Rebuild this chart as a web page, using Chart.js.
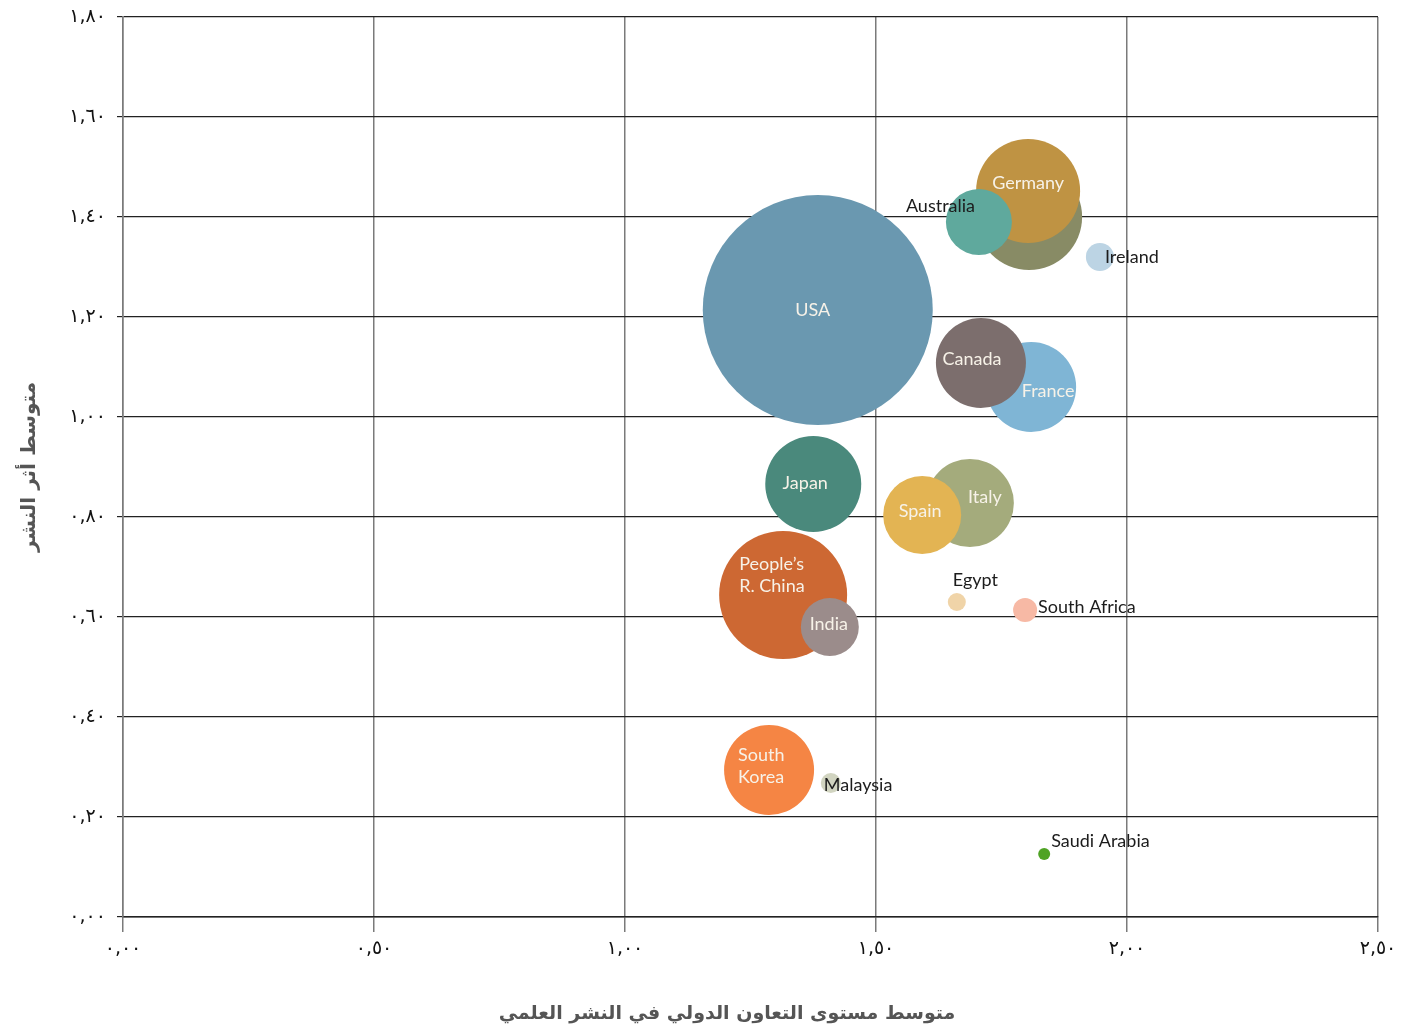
<!DOCTYPE html>
<html lang="ar">
<head>
<meta charset="utf-8">
<script src="https://cdn.jsdelivr.net/npm/chart.js@4/dist/chart.umd.min.js"></script>
<style>
  html, body { margin: 0; padding: 0; background: #fff; }
</style>
</head>
<body>
<canvas id="grafica" width="1417" height="1033"></canvas>
<script>
// datos
const paises = ['USA', 'UK', 'Germany', 'Australia', 'Ireland', 'France', 'Canada', 'Italy', 'Spain',
  'Japan', "People's R. China", 'India', 'Egypt', 'South Africa', 'South Korea', 'Malaysia', 'Saudi Arabia'];
const colaboracion = [1.384, 1.805, 1.803, 1.705, 1.946, 1.809, 1.709, 1.687, 1.592,
  1.375, 1.315, 1.408, 1.661, 1.797, 1.287, 1.410, 1.835];
const impacto = [1.214, 1.400, 1.452, 1.390, 1.320, 1.060, 1.108, 0.828, 0.804,
  0.866, 0.644, 0.580, 0.630, 0.614, 0.294, 0.268, 0.126];
const tamano = [115, 53, 52, 33, 14, 45, 45, 44, 39, 48, 64, 29, 9, 12, 45, 10, 6];
const xTicks = [0, 0.5, 1, 1.5, 2, 2.5];
const xTickLabels = ['٠,٠٠', '٠,٥٠', '١,٠٠', '١,٥٠', '٢,٠٠', '٢,٥٠'];
const yTickLabels = ['٠,٠٠', '٠,٢٠', '٠,٤٠', '٠,٦٠', '٠,٨٠', '١,٠٠', '١,٢٠', '١,٤٠', '١,٦٠', '١,٨٠'];
const tituloX = 'متوسط مستوى التعاون الدولي في النشر العلمي';
const tituloY = 'متوسط أثر النشر';

const colores = ['#6a98b0', '#888b65', '#bf9343', '#5fa99d', '#bcd4e4', '#7fb5d5', '#7c6e6d', '#a4ab7c', '#e3b453',
  '#4a897c', '#cd6833', '#9b8c8b', '#f0d4a8', '#f7b9a5', '#f58544', '#d1d4c0', '#4fa324'];

// como se dibuja cada etiqueta (desplazamiento desde el centro de la burbuja)
const claro = '#f7f2e8';
const oscuro = '#1c1c1c';
const etiquetas = [
  { lineas: ['USA'], color: claro, align: 'center', dx: -5, dy: 0 },
  null,
  { lineas: ['Germany'], color: claro, align: 'center', dx: 0, dy: -8 },
  { lineas: ['Australia'], color: oscuro, align: 'left', dx: -73, dy: -16 },
  { lineas: ['Ireland'], color: oscuro, align: 'left', dx: 5, dy: 0 },
  { lineas: ['France'], color: claro, align: 'center', dx: 17, dy: 4 },
  { lineas: ['Canada'], color: claro, align: 'center', dx: -9, dy: -4 },
  { lineas: ['Italy'], color: claro, align: 'center', dx: 15, dy: -6 },
  { lineas: ['Spain'], color: claro, align: 'center', dx: -2, dy: -4 },
  { lineas: ['Japan'], color: claro, align: 'center', dx: -8, dy: -1 },
  { lineas: ['People’s', 'R. China'], color: claro, align: 'left', dx: -44, dy: -31 },
  { lineas: ['India'], color: claro, align: 'center', dx: -1, dy: -3 },
  { lineas: ['Egypt'], color: oscuro, align: 'left', dx: -4, dy: -22 },
  { lineas: ['South Africa'], color: oscuro, align: 'left', dx: 13, dy: -3 },
  { lineas: ['South', 'Korea'], color: claro, align: 'left', dx: -31, dy: -15 },
  { lineas: ['Malaysia'], color: oscuro, align: 'left', dx: -7, dy: 2 },
  { lineas: ['Saudi Arabia'], color: oscuro, align: 'left', dx: 7, dy: -13 }
];

const puntos = paises.map((p, i) => ({ x: colaboracion[i], y: impacto[i], r: tamano[i] }));

const pluginEtiquetas = {
  id: 'etiquetas',
  afterDatasetsDraw(chart) {
    const ctx = chart.ctx;
    const meta = chart.getDatasetMeta(0);
    ctx.save();
    ctx.font = '18px Lato, "Open Sans", sans-serif';
    ctx.textBaseline = 'middle';
    meta.data.forEach((el, i) => {
      const e = etiquetas[i];
      if (!e) return;
      ctx.fillStyle = e.color;
      ctx.textAlign = e.align;
      e.lineas.forEach((linea, j) => {
        ctx.fillText(linea, el.x + e.dx, el.y + e.dy + j * 22);
      });
    });
    ctx.restore();
  }
};

// titulo del eje x un poco a la izquierda del centro, como en el original
const pluginTituloX = {
  id: 'tituloX',
  afterDraw(chart) {
    const ctx = chart.ctx;
    ctx.save();
    ctx.font = 'bold 19px "DejaVu Sans"';
    ctx.fillStyle = '#555';
    ctx.textAlign = 'center';
    ctx.textBaseline = 'middle';
    ctx.fillText(tituloX, chart.chartArea.left + 604, chart.chartArea.bottom + 97);
    ctx.restore();
  }
};

new Chart(document.getElementById('grafica'), {
  type: 'bubble',
  data: {
    datasets: [{
      label: 'países',
      data: puntos,
      backgroundColor: colores,
      borderWidth: 0,
      hoverBorderWidth: 0
    }]
  },
  options: {
    responsive: false,
    animation: false,
    events: [],
    layout: { autoPadding: false, padding: { top: 17, right: 39, left: 0, bottom: 0 } },
    plugins: {
      legend: { display: false },
      tooltip: { enabled: false }
    },
    scales: {
      x: {
        type: 'linear',
        min: 0,
        max: 2.5,
        afterFit: s => { s.height = 116; s.paddingLeft = 0; s.paddingRight = 0; },
        afterBuildTicks: s => { s.ticks = xTicks.map(v => ({ value: v })); },
        ticks: {
          callback: (v, i) => xTickLabels[i],
          font: { family: '"DejaVu Sans"', size: 19 },
          color: '#111',
          padding: 6,
          maxRotation: 0
        },
        grid: { color: '#7a7a7a', lineWidth: 1.5, tickLength: 15 },
        border: { color: '#222', width: 1.5 },
        title: { display: false }
      },
      y: {
        type: 'linear',
        min: 0,
        max: 1.8,
        afterFit: s => { s.width = 123; s.paddingTop = 0; s.paddingBottom = 0; },
        ticks: {
          stepSize: 0.2,
          callback: (v, i) => yTickLabels[i],
          font: { family: '"DejaVu Sans"', size: 19 },
          color: '#111',
          padding: 11
        },
        grid: { color: '#222', lineWidth: 1.2, tickLength: 6 },
        border: { color: '#7a7a7a', width: 1.5 },
        title: {
          display: true,
          text: tituloY,
          font: { family: '"DejaVu Sans"', size: 20, weight: 'bold' },
          color: '#555',
          padding: { top: 18, bottom: 0 }
        }
      }
    }
  },
  plugins: [pluginEtiquetas, pluginTituloX]
});
</script>
</body>
</html>
